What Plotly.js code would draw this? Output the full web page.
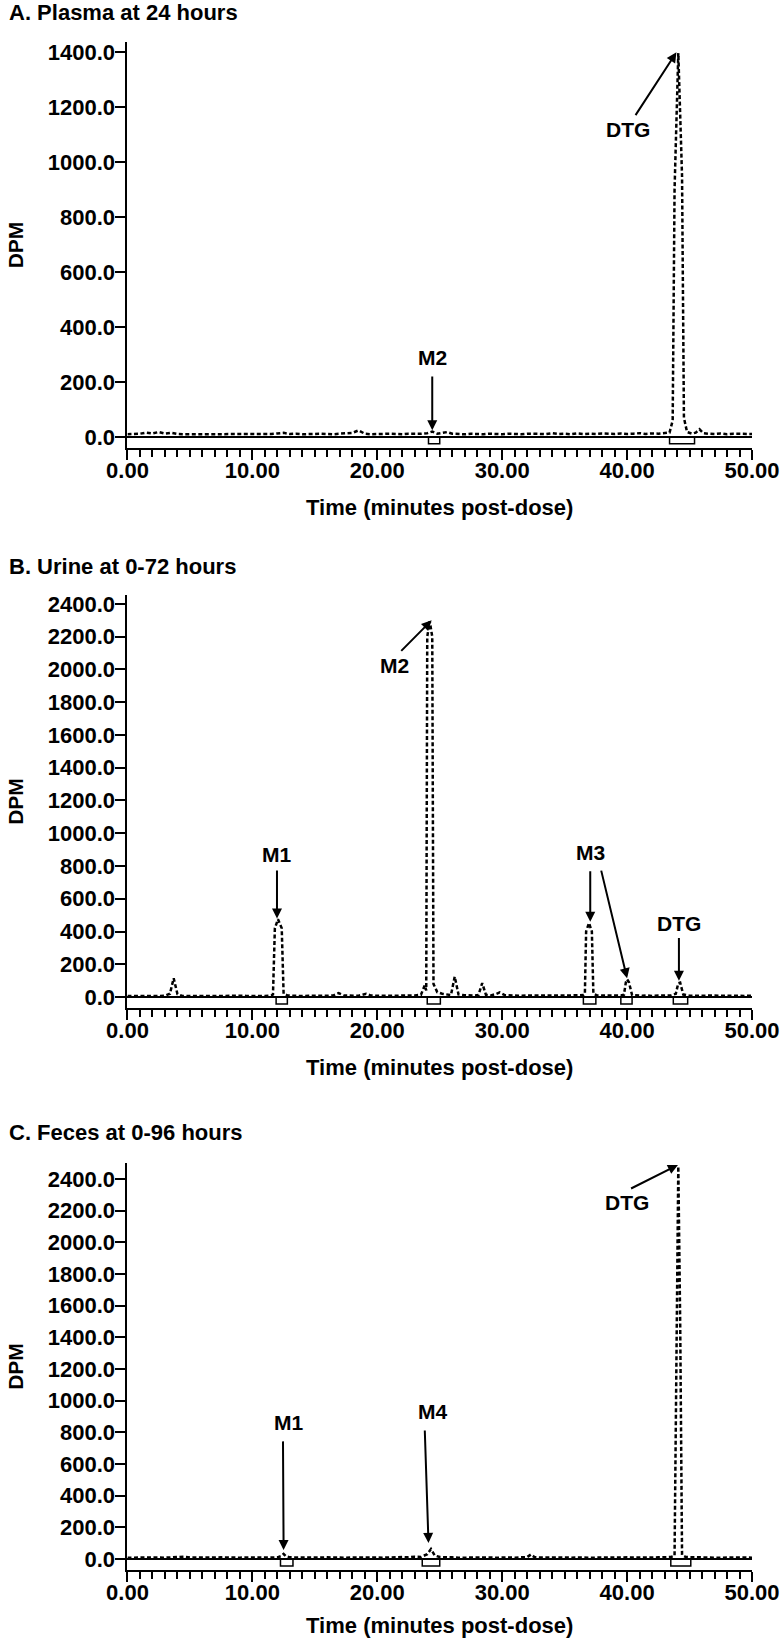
<!DOCTYPE html>
<html>
<head>
<meta charset="utf-8">
<script src="https://cdn.plot.ly/plotly-3.0.1.min.js"></script>
<style>
  body { margin: 0; background: #fff; }
  #plot { width: 783px; height: 1638px; }
</style>
</head>
<body>
<div id="plot"></div>
<script>
// A. Plasma at 24 hours
var timeA = [
  0, 0.5, 1, 1.5, 2, 2.5, 3, 3.5, 4, 4.5,
  5, 5.5, 6, 6.5, 7, 7.5, 8, 8.5, 9, 9.5,
  10, 10.5, 11, 11.5, 12, 12.5, 13, 13.5, 14, 14.5,
  15, 15.5, 16, 16.5, 17, 17.5, 18, 18.5, 19, 19.5,
  20, 20.5, 21, 21.5, 22, 22.5, 23, 23.5, 24, 24.4,
  24.8, 25.2, 25.6, 26, 26.5, 27, 27.5, 28, 28.5, 29,
  29.5, 30, 30.5, 31, 31.5, 32, 32.5, 33, 33.5, 34,
  34.5, 35, 35.5, 36, 36.5, 37, 37.5, 38, 38.5, 39,
  39.5, 40, 40.5, 41, 41.5, 42, 42.5, 43, 43.4, 43.65,
  43.8, 44.1, 44.4, 44.55, 44.8, 45.2, 45.5, 45.8, 46.1, 46.5,
  47, 47.5, 48, 48.5, 49, 49.5, 50
];
var dpmA = [
  10, 11, 12, 16, 13, 18, 12, 15, 11, 10,
  10, 11, 10, 12, 10, 11, 10, 11, 12, 10,
  11, 10, 12, 11, 13, 15, 11, 12, 10, 11,
  10, 12, 11, 10, 12, 14, 15, 24, 12, 10,
  11, 10, 12, 11, 10, 12, 11, 12, 14, 20,
  12, 14, 18, 12, 11, 10, 12, 11, 10, 12,
  11, 10, 12, 11, 10, 12, 11, 10, 11, 14,
  11, 12, 10, 13, 11, 12, 11, 13, 12, 11,
  13, 11, 12, 14, 11, 13, 12, 14, 16, 60,
  900, 1398, 950, 70, 18, 12, 16, 28, 14, 12,
  11, 13, 10, 12, 11, 12, 11
];

// B. Urine at 0-72 hours
var timeB = [
  0, 0.5, 1, 1.5, 2, 2.5, 3, 3.4, 3.7, 4.0,
  4.4, 5, 5.5, 6, 6.5, 7, 7.5, 8, 8.5, 9,
  9.5, 10, 10.5, 11, 11.5, 11.65, 11.8, 12.05, 12.35, 12.5,
  12.8, 13.2, 13.6, 14, 14.5, 15, 15.5, 16, 16.5, 16.9,
  17.3, 17.7, 18, 18.5, 19.1, 19.5, 20, 20.5, 21, 21.5,
  22, 22.5, 23, 23.5, 23.8, 23.92, 24.0, 24.2, 24.4, 24.5,
  24.8, 25.2, 25.6, 25.9, 26.2, 26.5, 26.9, 27.3, 27.7, 28.1,
  28.4, 28.7, 29.1, 29.5, 29.8, 30.2, 30.6, 31, 31.5, 32,
  32.5, 33, 33.5, 34, 34.5, 35, 35.5, 36, 36.5, 36.62,
  36.72, 36.95, 37.18, 37.3, 37.6, 38, 38.5, 39, 39.5, 39.75,
  39.9, 40.0, 40.15, 40.4, 40.8, 41.2, 41.6, 42, 42.5, 43,
  43.5, 43.9, 44.1, 44.25, 44.5, 45, 45.5, 46, 46.5, 47,
  47.5, 48, 48.5, 49, 49.5, 50
];
var dpmB = [
  6, 7, 6, 8, 7, 6, 8, 20, 115, 18,
  7, 6, 8, 7, 6, 7, 8, 6, 7, 8,
  7, 6, 8, 7, 9, 15, 420, 475, 420, 20,
  10, 8, 7, 6, 8, 7, 9, 8, 10, 24,
  10, 8, 9, 8, 20, 9, 8, 7, 9, 8,
  9, 8, 10, 14, 72, 40, 2200, 2295, 2200, 80,
  30, 20, 14, 12, 125, 16, 12, 10, 9, 12,
  85, 14, 10, 18, 28, 12, 10, 9, 8, 9,
  10, 11, 9, 12, 10, 9, 11, 10, 12, 18,
  400, 452, 400, 20, 10, 9, 8, 10, 9, 14,
  90, 108, 90, 12, 9, 8, 10, 7, 9, 8,
  10, 20, 85, 88, 15, 8, 9, 7, 8, 9,
  8, 7, 9, 8, 7, 8
];

// C. Feces at 0-96 hours
var timeC = [
  0, 0.5, 1, 1.5, 2, 2.5, 3, 3.5, 4, 4.5,
  5, 5.5, 6, 6.5, 7, 7.5, 8, 8.5, 9, 9.5,
  10, 10.5, 11, 11.5, 12, 12.3, 12.5, 12.7, 13, 13.5,
  14, 14.5, 15, 15.5, 16, 16.5, 17, 17.5, 18, 18.5,
  19, 19.5, 20, 20.5, 21, 21.5, 22, 22.5, 23, 23.5,
  24.0, 24.3, 24.6, 25, 25.5, 26, 26.5, 27, 27.5, 28,
  28.5, 29, 29.5, 30, 30.5, 31, 31.5, 32, 32.3, 32.6,
  33, 33.5, 34, 34.5, 35, 35.5, 36, 36.5, 37, 37.5,
  38, 38.5, 39, 39.5, 40, 40.5, 41, 41.5, 42, 42.5,
  43, 43.5, 43.8, 43.95, 44.1, 44.25, 44.4, 44.7, 45.2, 45.6,
  46, 46.5, 47, 47.5, 48, 48.5, 49, 49.5, 50
];
var dpmC = [
  8, 9, 8, 9, 10, 9, 8, 9, 10, 14,
  9, 8, 9, 8, 9, 10, 8, 9, 8, 9,
  8, 9, 8, 9, 10, 18, 32, 16, 10, 9,
  8, 9, 8, 9, 10, 8, 9, 8, 9, 10,
  9, 8, 9, 8, 10, 9, 12, 10, 14, 12,
  30, 62, 22, 12, 9, 10, 8, 9, 10, 9,
  8, 9, 8, 10, 9, 8, 10, 12, 28, 11,
  9, 10, 9, 12, 9, 8, 10, 9, 8, 9,
  10, 9, 11, 9, 10, 9, 8, 10, 9, 10,
  9, 12, 20, 1500, 2480, 1500, 25, 12, 10, 9,
  8, 9, 8, 9, 8, 9, 8, 9, 8
];

// integration brackets under the baseline [start, end] in minutes
var bracketsA = [[24.1, 25.0], [43.4, 45.4]];
var bracketsB = [[11.9, 12.8], [24.0, 25.05], [36.5, 37.5], [39.5, 40.4], [43.7, 44.85]];
var bracketsC = [[12.25, 13.25], [23.6, 25.0], [43.5, 45.1]];

// peak labels: [text, x, y]
var labelsA = [["DTG", 40.1, 1118], ["M2", 24.4, 290]];
var labelsB = [["M1", 11.9, 871], ["M2", 21.4, 2024], ["M3", 37.1, 882], ["DTG", 44.15, 449]];
var labelsC = [["M1", 12.9, 860], ["M4", 24.4, 929], ["DTG", 40.0, 2251]];

// arrows: [tailX, tailY, headX, headY]
var arrowsA = [[40.6, 1166, 43.95, 1400], [24.4, 226, 24.4, 25]];
var arrowsB = [[11.97, 782, 11.97, 480], [21.8, 2104, 24.35, 2300], [37.05, 777, 37.05, 460],
               [37.9, 781, 40.0, 115], [44.15, 370, 44.15, 100]];
var arrowsC = [[12.45, 752, 12.5, 57], [23.8, 821, 24.1, 101], [40.2, 2335, 44.07, 2489]];

var panelTitles = ["A. Plasma at 24 hours", "B. Urine at 0-72 hours", "C. Feces at 0-96 hours"];

var FONT = "Arial, 'Liberation Sans', sans-serif";

var lineStyle = {color: "black", width: 2.5, dash: "4px,2.5px"};
var traces = [
  {x: timeA, y: dpmA, xaxis: "x", yaxis: "y", mode: "lines", line: lineStyle, hoverinfo: "x+y"},
  {x: timeB, y: dpmB, xaxis: "x2", yaxis: "y2", mode: "lines", line: lineStyle, hoverinfo: "x+y"},
  {x: timeC, y: dpmC, xaxis: "x3", yaxis: "y3", mode: "lines", line: lineStyle, hoverinfo: "x+y"}
];

function xAxis(anchor, dom) {
  return {
    domain: dom, anchor: anchor, range: [0, 50],
    tickmode: "linear", tick0: 0, dtick: 10, tickformat: ".2f",
    ticks: "outside", ticklen: 10, tickwidth: 2, tickcolor: "black",
    ticklabelstandoff: -8,
    minor: {dtick: 1, ticks: "outside", ticklen: 7, tickwidth: 2, tickcolor: "black", showgrid: false},
    showline: true, linewidth: 2, linecolor: "black",
    showgrid: false, zeroline: false,
    tickfont: {family: FONT, size: 22, color: "black", weight: 700},
    title: {text: "Time (minutes post-dose)", standoff: 17,
            font: {family: FONT, size: 22, color: "black", weight: 700}}
  };
}
function yAxis(anchor, dom, range) {
  return {
    domain: dom, anchor: anchor, range: range,
    tickmode: "linear", tick0: 0, dtick: 200, tickformat: ".1f",
    ticks: "outside", ticklen: 10, tickwidth: 2, tickcolor: "black",
    ticklabelstandoff: -4,
    showline: true, linewidth: 2, linecolor: "black",
    showgrid: false, zeroline: true, zerolinewidth: 2, zerolinecolor: "black",
    tickfont: {family: FONT, size: 22, color: "black", weight: 700},
    title: {text: "DPM", standoff: 18,
            font: {family: FONT, size: 21, color: "black", weight: 700}}
  };
}

var xDom = [0.1628, 0.9604];
var layout = {
  width: 783, height: 1638,
  margin: {l: 0, r: 0, t: 0, b: 0},
  paper_bgcolor: "white", plot_bgcolor: "white",
  showlegend: false,
  font: {family: FONT, color: "black"},
  xaxis: xAxis("y", xDom),
  yaxis: yAxis("x", [0.7265, 0.9744], [-40, 1438]),
  xaxis2: xAxis("y2", xDom),
  yaxis2: yAxis("x2", [0.3846, 0.6368], [-67, 2455]),
  xaxis3: xAxis("y3", xDom),
  yaxis3: yAxis("x3", [0.0415, 0.2900], [-70, 2501]),
  shapes: [],
  annotations: []
};

// panel titles
var titleY = [1 - 13 / 1638, 1 - 566 / 1638, 1 - 1132 / 1638];
panelTitles.forEach(function (t, i) {
  layout.annotations.push({
    text: t, xref: "paper", yref: "paper", x: 7 / 783, y: titleY[i],
    xanchor: "left", yanchor: "middle", showarrow: false,
    font: {family: FONT, size: 22, color: "black", weight: 700}
  });
});

var panels = [
  {xr: "x", yr: "y", brackets: bracketsA, depth: 25, labels: labelsA, arrows: arrowsA},
  {xr: "x2", yr: "y2", brackets: bracketsB, depth: 43, labels: labelsB, arrows: arrowsB},
  {xr: "x3", yr: "y3", brackets: bracketsC, depth: 44, labels: labelsC, arrows: arrowsC}
];

panels.forEach(function (p) {
  p.brackets.forEach(function (b) {
    layout.shapes.push({
      type: "path", xref: p.xr, yref: p.yr,
      path: "M" + b[0] + ",0 L" + b[0] + "," + (-p.depth) + " L" + b[1] + "," + (-p.depth) + " L" + b[1] + ",0",
      line: {color: "black", width: 1.5}
    });
  });
  p.labels.forEach(function (l) {
    layout.annotations.push({
      text: l[0], xref: p.xr, yref: p.yr, x: l[1], y: l[2],
      showarrow: false, xanchor: "center", yanchor: "middle",
      font: {family: FONT, size: 21, color: "black", weight: 700}
    });
  });
  p.arrows.forEach(function (a) {
    layout.annotations.push({
      text: "", xref: p.xr, yref: p.yr, axref: p.xr, ayref: p.yr,
      ax: a[0], ay: a[1], x: a[2], y: a[3],
      showarrow: true, arrowhead: 2, arrowsize: 1, arrowwidth: 2,
      arrowcolor: "black", standoff: 0
    });
  });
});

Plotly.newPlot("plot", traces, layout, {staticPlot: true});
</script>
</body>
</html>
